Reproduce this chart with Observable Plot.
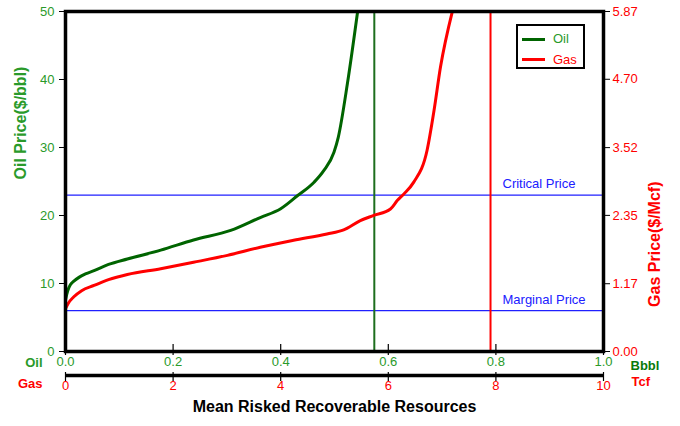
<!DOCTYPE html>
<html>
<head>
<meta charset="utf-8">
<script src="https://cdn.jsdelivr.net/npm/d3@7"></script>
<script src="https://cdn.jsdelivr.net/npm/@observablehq/plot@0.6"></script>
<style>
  body { margin: 0; background: #fff; }
  #wrap { position: relative; width: 680px; height: 426px; font-family: "Liberation Sans", Arial, sans-serif; }
  #legend { position: absolute; left: 516px; top: 24px; width: 65px; height: 41px; border: 2px solid #000; background: #fff; font-size: 13px; }
  #legend .sw { position: absolute; left: 4px; width: 23px; height: 3px; }
  #legend .lb { position: absolute; left: 35px; line-height: 15px; }
</style>
</head>
<body>
<div id="wrap"></div>
<script>
// ---- data ----
const oilResource = [0, 0.004, 0.009, 0.015, 0.025, 0.037, 0.053, 0.08, 0.115, 0.177, 0.238, 0.307, 0.362, 0.400, 0.431, 0.462, 0.480, 0.499, 0.507, 0.524, 0.543]; // Bbbl
const oilPrice    = [7.6, 8.9, 9.8, 10.3, 10.9, 11.4, 11.9, 12.8, 13.6, 14.9, 16.4, 17.8, 19.7, 21.0, 22.9, 24.9, 26.6, 29.3, 31.5, 39.4, 50];      // $/bbl
const gasResource = [0, 0.05, 0.15, 0.3, 0.53, 0.8, 1.15, 1.77, 2.38, 3.01, 3.62, 4.24, 4.86, 5.17, 5.48, 5.73, 6.04, 6.17, 6.29, 6.47, 6.72, 6.85, 6.97, 7.19]; // Tcf
const gasPrice    = [0.74, 0.83, 0.94, 1.05, 1.14, 1.24, 1.33, 1.43, 1.54, 1.66, 1.80, 1.92, 2.03, 2.10, 2.26, 2.35, 2.46, 2.61, 2.72, 2.92, 3.47, 4.16, 4.91, 5.87]; // $/Mcf
const oilXTicks = [0, 0.2, 0.4, 0.6, 0.8, 1.0];
const gasXTicks = [0, 2, 4, 6, 8, 10];
const oilYTicks = [0, 10, 20, 30, 40, 50];
const gasYTicks = [0, 1.17, 2.35, 3.52, 4.70, 5.87];
const oilMeanResource = 0.574; // Bbbl
const gasMeanResource = 7.9;   // Tcf
const priceLabels = ["Critical Price", "Marginal Price"];
const priceValues = [23, 6];   // $/bbl

// ---- derived tables ----
const xRatio = oilXTicks[oilXTicks.length - 1] / gasXTicks[gasXTicks.length - 1];
const yRatio = oilYTicks[oilYTicks.length - 1] / gasYTicks[gasYTicks.length - 1];
const oil = oilResource.map((r, i) => ({r, p: oilPrice[i]}));
const gas = gasResource.map((r, i) => ({r, p: gasPrice[i]}));
const priceLines = priceLabels.map((label, i) => ({label, price: priceValues[i]}));

const GREEN_TXT = "#2a9a2a";
const GREEN_LINE = "#006400";
const GREEN_VLINE = "#1e6e1e";
const RED = "#ff0000";
const BLUE = "#2020ff";
const base = oilYTicks[0];

const chart = Plot.plot({
  width: 680,
  height: 426,
  marginLeft: 65,
  marginRight: 77,
  marginTop: 11,
  marginBottom: 75,
  style: {fontFamily: "'Liberation Sans', Arial, sans-serif", background: "#fff"},
  x: {domain: [oilXTicks[0], oilXTicks[oilXTicks.length - 1]], axis: null},
  y: {domain: [oilYTicks[0], oilYTicks[oilYTicks.length - 1]], axis: null},
  marks: [
    // price reference lines
    Plot.ruleY(priceLines, {y: "price", stroke: BLUE, strokeWidth: 1.3}),
    Plot.text(priceLines, {y: "price", text: "label", frameAnchor: "right", dx: -101, dy: -11, textAnchor: "start", fill: BLUE, fontSize: 13}),
    // mean resource lines
    Plot.ruleX([oilMeanResource], {stroke: GREEN_VLINE, strokeWidth: 2}),
    Plot.ruleX([gasMeanResource * xRatio], {stroke: RED, strokeWidth: 2}),
    // curves
    Plot.line(gas, {x: d => d.r * xRatio, y: d => d.p * yRatio, stroke: RED, strokeWidth: 3, curve: "monotone-x"}),
    Plot.line(oil, {x: "r", y: "p", stroke: GREEN_LINE, strokeWidth: 3, curve: "monotone-x"}),
    // left axis (oil price)
    Plot.axisY(oilYTicks, {anchor: "left", tickSize: 6, tickPadding: 5, stroke: "#000", fill: GREEN_TXT, fontSize: 13, label: null, tickFormat: d => String(d)}),
    // right axis (gas price)
    Plot.axisY(gasYTicks.map(g => g * yRatio), {anchor: "right", tickSize: 6, tickPadding: 3, stroke: "#000", fill: RED, fontSize: 13, label: null, tickFormat: d => (d / yRatio).toFixed(2)}),
    // bottom oil axis
    Plot.ruleX(oilXTicks, {x: d => d, y1: base, y2: base, insetTop: -7, insetBottom: -4, stroke: "#000", strokeWidth: 1.2}),
    Plot.text(oilXTicks, {x: d => d, frameAnchor: "bottom", dy: 14, text: d => d.toFixed(1), fill: GREEN_TXT, fontSize: 13}),
    // gas axis below
    Plot.ruleY([base], {dy: 24, stroke: "#000", strokeWidth: 3.5}),
    Plot.ruleX(gasXTicks, {x: g => g * xRatio, y1: base, y2: base, insetTop: -3, insetBottom: -6, dy: 24, stroke: "#000", strokeWidth: 1.2}),
    Plot.text(gasXTicks, {x: g => g * xRatio, frameAnchor: "bottom", dy: 38, text: d => String(d), fill: RED, fontSize: 13}),
    // unit labels
    Plot.text(["Oil"], {frameAnchor: "bottom-left", dx: -23, dy: 15, textAnchor: "end", fill: GREEN_TXT, fontWeight: "bold", fontSize: 13}),
    Plot.text(["Gas"], {frameAnchor: "bottom-left", dx: -23, dy: 36, textAnchor: "end", fill: RED, fontWeight: "bold", fontSize: 13}),
    Plot.text(["Bbbl"], {frameAnchor: "bottom-right", dx: 27, dy: 18, textAnchor: "start", fill: "#0a7a0a", fontWeight: "bold", fontSize: 13}),
    Plot.text(["Tcf"], {frameAnchor: "bottom-right", dx: 28, dy: 34, textAnchor: "start", fill: RED, fontWeight: "bold", fontSize: 13}),
    // axis titles
    Plot.text(["Oil Price($/bbl)"], {frameAnchor: "left", dx: -45, dy: -2, rotate: -90, fill: GREEN_TXT, fontWeight: "bold", fontSize: 16}),
    Plot.text(["Gas Price($/Mcf)"], {frameAnchor: "right", dx: 51, rotate: -90, fill: RED, fontWeight: "bold", fontSize: 16}),
    Plot.text(["Mean Risked Recoverable Resources"], {frameAnchor: "bottom", dy: 60, fill: "#000", fontWeight: "bold", fontSize: 16}),
    // frame
    Plot.frame({stroke: "#000", strokeWidth: 3.5})
  ]
});

const wrap = document.getElementById("wrap");
wrap.appendChild(chart);
const legend = document.createElement("div");
legend.id = "legend";
legend.innerHTML =
  `<div class="sw" style="top:12px;background:${GREEN_LINE}"></div><div class="lb" style="top:5px;color:${GREEN_TXT}">Oil</div>` +
  `<div class="sw" style="top:32px;background:${RED}"></div><div class="lb" style="top:26px;color:${RED}">Gas</div>`;
wrap.appendChild(legend);
</script>
</body>
</html>
